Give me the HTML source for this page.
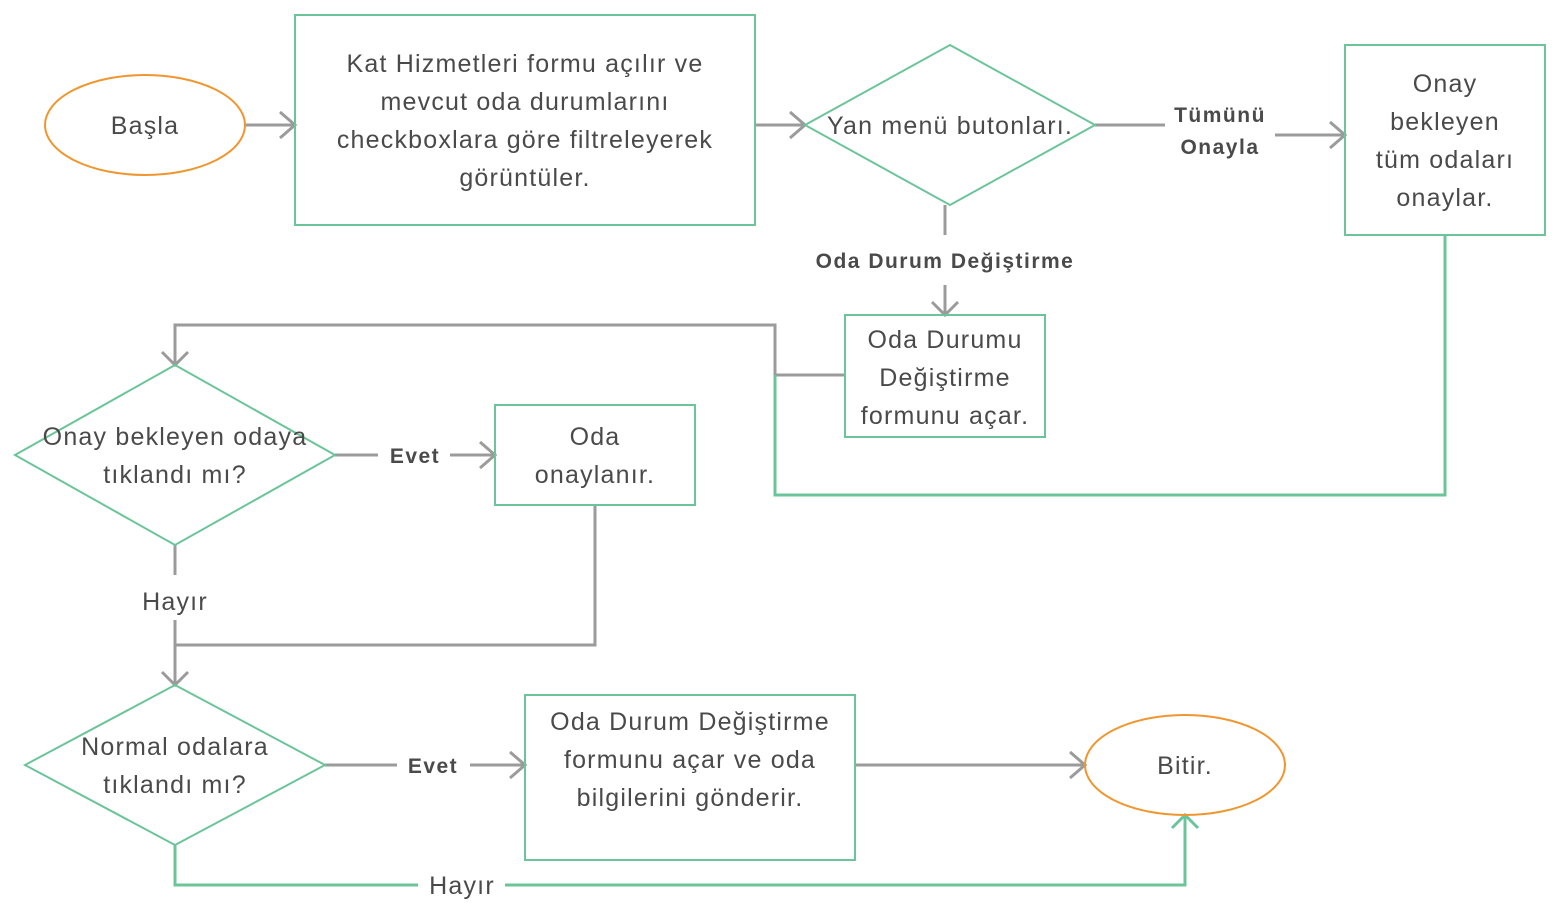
<!DOCTYPE html>
<html><head><meta charset="utf-8"><style>
html,body{margin:0;padding:0;background:#fff;}
svg{display:block}
text{font-family:"Liberation Sans",sans-serif;fill:#4a4a4a;}
.t{font-size:25px;text-anchor:middle;letter-spacing:1.2px}
.b{font-size:21px;font-weight:bold;text-anchor:middle;letter-spacing:1.5px}
</style></head><body>
<svg width="1560" height="915" viewBox="0 0 1560 915" xmlns="http://www.w3.org/2000/svg">
<g fill="none" stroke-width="3" stroke-linecap="butt">
<g stroke="#9b9b9b">
<path d="M245 125H295M280 112L295 125L280 138"/>
<path d="M755 125H805M790 112L805 125L790 138"/>
<path d="M1095 125H1165"/>
<path d="M1275 135H1345M1330 122L1345 135L1330 148"/>
<path d="M945 205V235"/>
<path d="M945 285V315M932 302L945 315L958 302"/>
<path d="M845 375H775V325H175V365M162 352L175 365L188 352"/>
<path d="M335 455H378"/>
<path d="M450 455H495M480 442L495 455L480 468"/>
<path d="M595 505V645H175"/>
<path d="M175 545V575"/>
<path d="M175 620V685M162 672L175 685L188 672"/>
<path d="M325 765H397"/>
<path d="M470 765H525M510 752L525 765L510 778"/>
<path d="M855 765H1085M1070 752L1085 765L1070 778"/>
</g>
<g stroke="#6cc49a">
<path d="M1445 235V495H775V375"/>
<path d="M175 845V885H418"/>
<path d="M505 885H1185V815M1172 828L1185 815L1198 828"/>
</g>
<ellipse cx="145" cy="125" rx="100" ry="50" stroke="#f0962e" stroke-width="2"/>
<ellipse cx="1185" cy="765" rx="100" ry="50" stroke="#f0962e" stroke-width="2"/>
<g stroke="#6cc49a" stroke-width="2">
<rect x="295" y="15" width="460" height="210"/>
<polygon points="805,125 950,45 1095,125 950,205"/>
<rect x="1345" y="45" width="200" height="190"/>
<rect x="845" y="315" width="200" height="122"/>
<polygon points="15,455 175,365 335,455 175,545"/>
<rect x="495" y="405" width="200" height="100"/>
<polygon points="25,765 175,685 325,765 175,845"/>
<rect x="525" y="695" width="330" height="165"/>
</g>
</g>
<text class="t" x="145" y="134">Başla</text>
<text class="t" x="525" y="72">Kat Hizmetleri formu açılır ve</text>
<text class="t" x="525" y="110">mevcut oda durumlarını</text>
<text class="t" x="525" y="148">checkboxlara göre filtreleyerek</text>
<text class="t" x="525" y="186">görüntüler.</text>
<text class="t" x="950" y="134">Yan menü butonları.</text>
<text class="b" x="1220" y="122">Tümünü</text>
<text class="b" x="1220" y="154">Onayla</text>
<text class="t" x="1445" y="92">Onay</text>
<text class="t" x="1445" y="130">bekleyen</text>
<text class="t" x="1445" y="168">tüm odaları</text>
<text class="t" x="1445" y="206">onaylar.</text>
<text class="b" x="945" y="268">Oda Durum Değiştirme</text>
<text class="t" x="945" y="348">Oda Durumu</text>
<text class="t" x="945" y="386">Değiştirme</text>
<text class="t" x="945" y="424">formunu açar.</text>
<text class="t" x="175" y="445">Onay bekleyen odaya</text>
<text class="t" x="175" y="483">tıklandı mı?</text>
<text class="b" x="415" y="463">Evet</text>
<text class="t" x="595" y="445">Oda</text>
<text class="t" x="595" y="483">onaylanır.</text>
<text class="t" x="175" y="610">Hayır</text>
<text class="t" x="175" y="755">Normal odalara</text>
<text class="t" x="175" y="793">tıklandı mı?</text>
<text class="b" x="433" y="773">Evet</text>
<text class="t" x="690" y="730">Oda Durum Değiştirme</text>
<text class="t" x="690" y="768">formunu açar ve oda</text>
<text class="t" x="690" y="806">bilgilerini gönderir.</text>
<text class="t" x="1185" y="774">Bitir.</text>
<text class="t" x="462" y="894">Hayır</text>
</svg>
</body></html>
